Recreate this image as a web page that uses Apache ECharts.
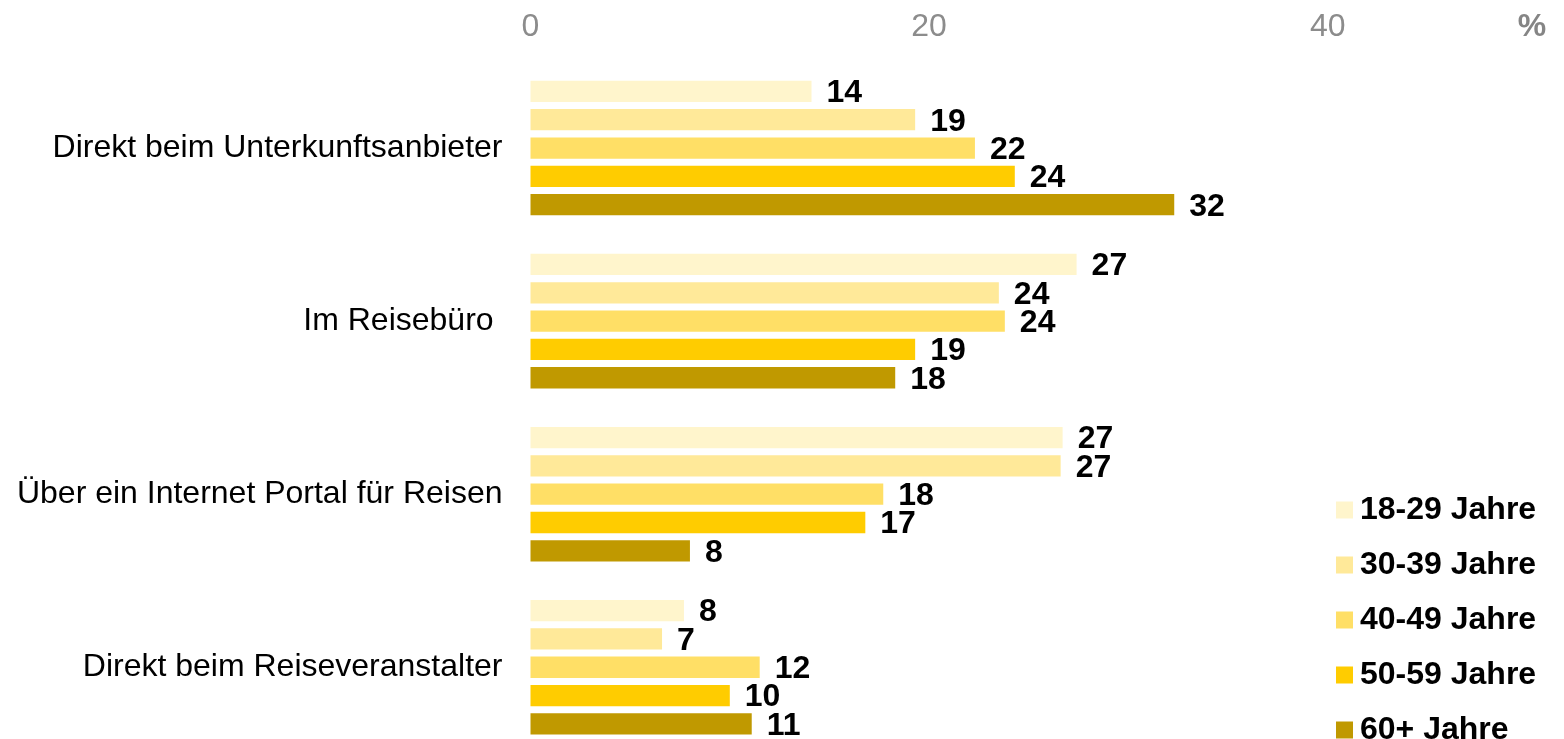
<!DOCTYPE html>
<html>
<head>
<meta charset="utf-8">
<script src="https://cdn.jsdelivr.net/npm/echarts@6/dist/echarts.min.js"></script>
<style>
html,body{margin:0;padding:0;background:#fff;}
#chart{width:1564px;height:739px;}
</style>
</head>
<body>
<div id="chart"></div>
<script>
const categories = ['Direkt beim Unterkunftsanbieter', 'Im Reisebüro ', 'Über ein Internet Portal für Reisen', 'Direkt beim Reiseveranstalter'];
const seriesNames = ['18-29 Jahre', '30-39 Jahre', '40-49 Jahre', '50-59 Jahre', '60+ Jahre'];
const age18_29 = [14.1, 27.4, 26.7, 7.7];
const age30_39 = [19.3, 23.5, 26.6, 6.6];
const age40_49 = [22.3, 23.8, 17.7, 11.5];
const age50_59 = [24.3, 19.3, 16.8, 10.0];
const age60plus = [32.3, 18.3, 8.0, 11.1];
const tickLabels = {0: '0', 20: '20', 40: '40', 50: '%'};
const colors = ['#fff5cc', '#ffe999', '#ffdf66', '#ffcc00', '#c09900'];

const seriesData = [age18_29, age30_39, age40_49, age50_59, age60plus];
const font = 'Liberation Sans, Arial, sans-serif';

const chart = echarts.init(document.getElementById('chart'));
chart.setOption({
  animation: false,
  backgroundColor: '#ffffff',
  grid: { left: 530.5, width: 996.5, top: 61.5, height: 692.3, containLabel: false, outerBoundsMode: 'none' },
  xAxis: {
    type: 'value', position: 'top', min: 0, max: 50, interval: 10,
    axisLine: { show: false }, axisTick: { show: false }, splitLine: { show: false },
    axisLabel: {
      margin: 18,
      fontFamily: font, fontSize: 32, color: '#8c8c8c',
      formatter: function (v) {
        const t = tickLabels[v];
        if (t === undefined) return '';
        return t === '%' ? '{p|%}' : t;
      },
      rich: { p: { fontFamily: font, fontSize: 32, fontWeight: 'bold', color: '#858585', padding: [0, 0, 0, 10] } }
    }
  },
  yAxis: {
    type: 'category', data: categories, inverse: true,
    axisLine: { show: false }, axisTick: { show: false }, splitLine: { show: false },
    axisLabel: { margin: 28, fontFamily: font, fontSize: 32, color: '#000' }
  },
  legend: {
    orient: 'vertical', left: 1336, top: 494, height: 260, padding: 0,
    itemWidth: 17, itemHeight: 17, itemGap: 23, icon: 'rect',
    data: seriesNames,
    textStyle: { fontFamily: font, fontSize: 32, fontWeight: 'bold', color: '#000', lineHeight: 32, padding: [0, 0, 0, 2] }
  },
  series: seriesData.map((d, i) => ({
    name: seriesNames[i], type: 'bar', data: d,
    barWidth: 21.3, barGap: '33%',
    itemStyle: { color: colors[i] },
    label: {
      show: true, position: 'right', distance: 15,
      fontFamily: font, fontSize: 32, fontWeight: 'bold', color: '#000',
      offset: [0, 2],
      formatter: p => String(Math.round(p.value))
    }
  }))
});
</script>
</body>
</html>
